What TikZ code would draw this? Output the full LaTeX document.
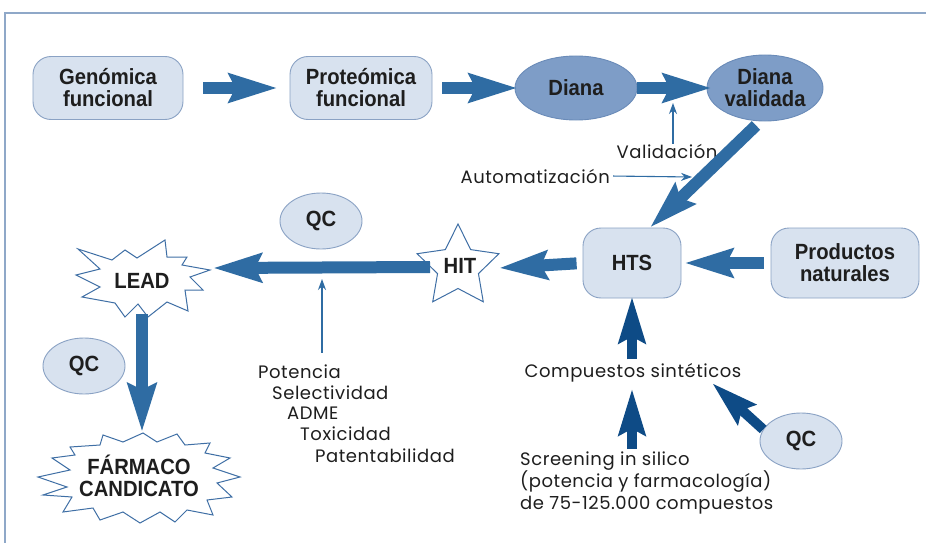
\documentclass[tikz,border=0pt]{standalone}
\usepackage{fontspec}
\setmainfont{Poppins}[LetterSpace=3]
\newfontfamily\boxfont{Liberation Sans}[FakeStretch=0.92]
\usetikzlibrary{arrows.meta,shapes.geometric,calc}

\definecolor{framec}{HTML}{8FA8C8}
\definecolor{boxfill}{HTML}{D8E2EF}
\definecolor{boxline}{HTML}{8AA2C4}
\definecolor{dianafill}{HTML}{7E9DC7}
\definecolor{dianaline}{HTML}{6A8BB8}
\definecolor{arrowc}{HTML}{2F6CA3}
\definecolor{darkarrow}{HTML}{0E4B86}
\definecolor{burstline}{HTML}{3F6FA5}
\definecolor{inkc}{HTML}{1E1E1E}

\tikzset{
  boldlabel/.style={font=\boxfont\bfseries\fontsize{22}{22}\selectfont, text=inkc, align=center, inner sep=0pt},
  lightbox/.style={boldlabel, rectangle, rounded corners=18pt, draw=boxline, fill=boxfill, line width=0.9pt},
  darkoval/.style={boldlabel, ellipse, draw=dianaline, fill=dianafill, line width=0.9pt},
  qcoval/.style={boldlabel, ellipse, draw=boxline, fill=boxfill, line width=0.9pt, minimum width=82pt, minimum height=56pt},
  burst/.style={draw=burstline, fill=white, line width=1pt, line join=miter},
  plaintext/.style={font=\fontsize{18}{22}\selectfont, text=inkc, inner sep=0pt},
  bigarrow/.style={draw=arrowc, line width=12pt, -{Stealth[length=48pt,width=28pt,inset=6pt]}},
  darkbig/.style={draw=darkarrow, line width=10pt, -{Stealth[length=46pt,width=26pt,inset=6pt]}},
  slimarrow/.style={draw=arrowc, line width=1.1pt, -{Stealth[length=11pt,width=8pt]}},
}

\begin{document}
\begin{tikzpicture}[x=1pt,y=-1pt]
\fill[white] (0,0) rectangle (926,543);
\useasboundingbox (0,0) rectangle (926,543);

% outer frame (top and left edges only)
\draw[framec, line width=1.4pt] (926,13) -- (5,13) -- (5,543);

% top row
\node[lightbox, minimum width=150pt, minimum height=63pt] (gen) at (108,88) {Genómica\\funcional};
\node[lightbox, minimum width=142pt, minimum height=63pt] (prot) at (361,88) {Proteómica\\funcional};
\node[darkoval, minimum width=122pt, minimum height=64pt] (diana) at (576,88) {Diana};
\node[darkoval, minimum width=116pt, minimum height=66pt] (dv) at (765,88) {Diana\\validada};

% screening row
\node[lightbox, minimum width=98pt, minimum height=70pt] (hts) at (632,263) {HTS};
\node[lightbox, minimum width=148pt, minimum height=70pt] (prod) at (845,263) {Productos\\naturales};

% quality control ovals
\node[qcoval] (qcA) at (321,221) {QC};
\node[qcoval] (qcB) at (84,366) {QC};
\node[qcoval] (qcC) at (801,441) {QC};

% HIT star
\node[star, star points=5, star point ratio=2.0, minimum size=86pt, burst, inner sep=0pt] (hit) at (458,267) {};
\node[boldlabel] (hitlbl) at (460,266) {HIT};

% LEAD burst
\draw[burst] (78,249) -- (112,260) -- (125,250) -- (137,258) -- (165,240) -- (167,257)
  -- (187,257) -- (182,265) -- (210,270) -- (190,277) -- (203,290) -- (185,290)
  -- (188,311) -- (167,302) -- (148,317) -- (138,304) -- (125,317) -- (115,303)
  -- (82,297) -- (100,287) -- (76,275) -- (100,269) -- cycle;
\node[boldlabel] (lead) at (142,281) {LEAD};

% candidate drug burst
\draw[burst] (38,477) -- (70,470) -- (52,458) -- (75,455) -- (70,447) -- (100,445)
  -- (103,435) -- (123,442) -- (143,433) -- (157,442) -- (177,434) -- (185,445)
  -- (210,443) -- (205,453) -- (230,458) -- (213,468) -- (240,477) -- (217,483)
  -- (232,497) -- (207,500) -- (213,515) -- (187,510) -- (175,522) -- (160,512)
  -- (140,523) -- (123,512) -- (100,520) -- (93,508) -- (63,512) -- (72,497)
  -- (43,495) -- (67,487) -- cycle;
\node[boldlabel] (farm) at (139,476) {FÁRMACO\\CANDICATO};

% plain labels
\node[plaintext] (val) at (667,151) {Validación};
\node[plaintext, anchor=east] (auto) at (610,176) {Automatización};
\node[plaintext, anchor=west] (pot) at (258,372) {Potencia};
\node[plaintext, anchor=west] (sel) at (272,393) {Selectividad};
\node[plaintext, anchor=west] (adme) at (287,413) {ADME};
\node[plaintext, anchor=west] (tox) at (300,434) {Toxicidad};
\node[plaintext, anchor=west] (pat) at (315,456) {Patentabilidad};
\node[plaintext] (comp) at (633,373) {Compuestos sintéticos};
\node[plaintext, anchor=north west, align=left] (scr) at (520,452)
  {Screening in silico\\(potencia y farmacología)\\de 75-125.000 compuestos};

% free ends of connectors
\coordinate (vtip) at (673,103);
\coordinate (atip) at (692,177);
\coordinate (ptip) at (322,279);
\coordinate (hitE) at (499,268);
\coordinate (leadE) at (213,268);
\coordinate (leadS) at (142,314);
\coordinate (farmN) at (142,432);
\coordinate (sinT) at (712,383);

% main flow
\draw[bigarrow, shorten <=20pt, shorten >=12pt] (gen.east) -- (prot.west);
\draw[bigarrow, shorten <=10pt, shorten >=-3pt] (prot.east) -- (diana.west);
\draw[bigarrow, shorten >=-5pt] (diana.east) -- (dv.west);
\draw[bigarrow] ($(dv.south)+(-9,4)$) -- ($(hts.north)+(18,0)$);
\draw[bigarrow, shorten <=7pt, shorten >=3pt] (prod.west) -- (hts.east |- prod.west);
\draw[bigarrow, shorten <=6pt] (hts.west) -- (hitE);
\draw[bigarrow] (hit.west) -- (leadE);
\draw[bigarrow] (leadS) -- (farmN);

% side inputs
\draw[slimarrow] (val.north -| vtip) -- (vtip);
\draw[slimarrow, shorten <=3pt] (auto.east) -- (atip);
\draw[slimarrow, shorten <=12pt] (ptip |- pot.north) -- (ptip);

% synthetic compounds feed
\draw[darkbig, shorten <=4pt, shorten >=-2pt] (comp.north -| hts) -- (hts.south);
\draw[darkbig, shorten <=3pt, shorten >=6pt] (scr.north -| hts) -- (comp.south -| hts);
\draw[darkbig] (qcC.163) -- (sinT);
\end{tikzpicture}
\end{document}
